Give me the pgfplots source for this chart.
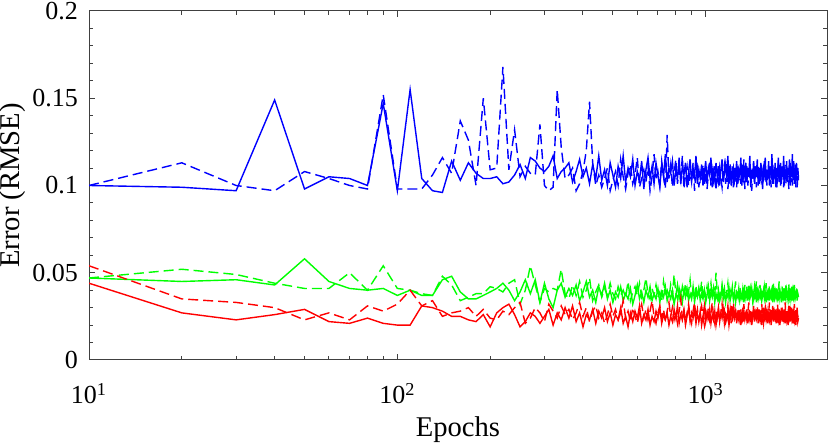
\documentclass[border=0pt]{standalone}
\usepackage{pgfplots}
\usepackage{pgfplotstable}
\usepackage{fontspec}
\setmainfont{Liberation Serif}
\pgfplotsset{compat=1.18}
\pgfplotstableread{
e bs bd gs gd rs rd
10 0.100 0.100 0.047 0.047 0.044 0.054
20 0.099 0.113 0.045 0.052 0.027 0.035
30 0.097 0.100 0.046 0.049 0.023 0.033
40 0.149 0.097 0.043 0.044 0.026 0.030
50 0.098 0.108 0.058 0.041 0.029 0.023
60 0.105 0.104 0.045 0.041 0.022 0.027
70 0.104 0.100 0.041 0.050 0.021 0.023
80 0.100 0.098 0.040 0.040 0.024 0.031
90 0.147 0.152 0.041 0.054 0.021 0.028
100 0.097 0.098 0.037 0.041 0.020 0.032
110 0.155 0.098 0.040 0.040 0.020 0.040
120 0.104 0.098 0.037 0.038 0.031 0.031
130 0.097 0.106 0.037 0.037 0.030 0.034
140 0.096 0.116 0.046 0.048 0.028 0.025
150 0.114 0.107 0.048 0.043 0.025 0.027
160 0.103 0.137 0.039 0.034 0.025 0.028
170 0.113 0.126 0.035 0.036 0.023 0.030
180 0.107 0.100 0.035 0.038 0.022 0.025
190 0.104 0.150 0.037 0.038 0.026 0.029
200 0.104 0.109 0.039 0.042 0.019 0.024
210 0.105 0.110 0.041 0.041 0.027 0.023
220 0.101 0.168 0.044 0.039 0.030 0.028
230 0.102 0.109 0.040 0.044 0.032 0.026
240 0.106 0.132 0.034 0.046 0.026 0.030
250 0.112 0.105 0.039 0.032 0.019 0.033
260 0.104 0.111 0.046 0.040 0.022 0.021
270 0.116 0.107 0.038 0.054 0.027 0.024
280 0.114 0.106 0.046 0.043 0.025 0.030
290 0.110 0.135 0.033 0.033 0.021 0.027
300 0.108 0.100 0.044 0.041 0.025 0.022
310 0.111 0.097 0.035 0.039 0.029 0.032
320 0.117 0.099 0.030 0.041 0.020 0.028
330 0.104 0.155 0.040 0.040 0.027 0.024
340 0.108 0.122 0.044 0.052 0.023 0.031
350 0.110 0.104 0.036 0.038 0.030 0.026
360 0.113 0.106 0.041 0.035 0.024 0.029
370 0.102 0.110 0.037 0.043 0.031 0.023
380 0.108 0.097 0.043 0.037 0.022 0.027
390 0.115 0.101 0.034 0.045 0.027 0.033
400 0.105 0.108 0.039 0.036 0.019 0.025
410 0.110 0.120 0.045 0.040 0.026 0.030
420 0.101 0.148 0.036 0.047 0.023 0.022
430 0.112 0.113 0.040 0.034 0.029 0.028
440 0.104 0.100 0.033 0.039 0.021 0.031
450 0.117 0.106 0.042 0.043 0.028 0.024
460 0.103 0.099 0.037 0.036 0.024 0.027
470 0.109 0.104 0.044 0.041 0.030 0.021
480 0.100 0.110 0.035 0.037 0.022 0.026
490 0.113 0.097 0.040 0.044 0.027 0.032
500 0.106 0.103 0.033 0.038 0.020 0.025
510 0.099 0.108 0.039 0.035 0.026 0.029
520 0.111 0.100 0.036 0.042 0.023 0.023
530 0.104 0.115 0.042 0.037 0.030 0.027
540 0.117 0.105 0.034 0.040 0.021 0.034
550 0.102 0.098 0.038 0.036 0.025 0.024
560 0.110 0.107 0.035 0.045 0.019 0.028
570 0.105 0.112 0.041 0.034 0.027 0.022
580 0.115 0.101 0.032 0.039 0.022 0.030
590 0.100 0.106 0.037 0.042 0.028 0.025
600 0.108 0.116 0.043 0.037 0.024 0.021
610 0.103 0.099 0.035 0.044 0.031 0.027
620 0.114 0.104 0.039 0.036 0.021 0.032
630 0.098 0.109 0.033 0.040 0.026 0.024
640 0.109 0.102 0.040 0.047 0.023 0.029
650 0.116 0.111 0.036 0.038 0.029 0.023
660 0.104 0.097 0.042 0.035 0.020 0.028
670 0.111 0.105 0.034 0.041 0.025 0.034
680 0.101 0.118 0.038 0.037 0.022 0.025
690 0.113 0.103 0.035 0.043 0.028 0.021
700 0.106 0.108 0.041 0.036 0.024 0.027
710 0.099 0.100 0.033 0.039 0.030 0.031
720 0.112 0.114 0.039 0.034 0.021 0.024
730 0.105 0.106 0.036 0.045 0.026 0.029
740 0.118 0.098 0.042 0.038 0.023 0.022
750 0.102 0.129 0.034 0.040 0.027 0.028
760 0.110 0.104 0.038 0.036 0.020 0.033
770 0.107 0.112 0.035 0.043 0.025 0.025
780 0.114 0.099 0.040 0.037 0.022 0.030
790 0.100 0.107 0.032 0.049 0.029 0.023
800 0.109 0.115 0.037 0.038 0.024 0.027
810 0.104 0.101 0.043 0.035 0.031 0.021
820 0.116 0.109 0.035 0.041 0.021 0.028
830 0.101 0.103 0.039 0.036 0.026 0.035
840 0.111 0.117 0.033 0.042 0.023 0.024
850 0.106 0.098 0.040 0.037 0.028 0.029
860 0.113 0.106 0.036 0.044 0.020 0.022
870 0.099 0.111 0.041 0.035 0.025 0.027
880 0.108 0.100 0.034 0.039 0.030 0.032
890 0.115 0.108 0.038 0.046 0.022 0.025
900 0.103 0.102 0.035 0.036 0.027 0.021
910 0.110 0.113 0.042 0.040 0.024 0.028
920 0.105 0.097 0.033 0.037 0.029 0.033
930 0.117 0.105 0.039 0.043 0.021 0.024
940 0.101 0.110 0.036 0.035 0.026 0.029
950 0.109 0.099 0.041 0.041 0.023 0.022
960 0.104 0.107 0.034 0.038 0.028 0.027
970 0.112 0.103 0.038 0.045 0.020 0.031
980 0.100 0.112 0.035 0.036 0.025 0.025
990 0.107 0.101 0.040 0.040 0.031 0.020
1000 0.114 0.108 0.033 0.037 0.022 0.028
1010 0.102 0.098 0.037 0.042 0.027 0.024
1020 0.110 0.106 0.042 0.035 0.024 0.030
1030 0.106 0.114 0.034 0.039 0.029 0.023
1040 0.116 0.100 0.039 0.044 0.021 0.027
1050 0.099 0.109 0.036 0.036 0.026 0.033
1060 0.108 0.103 0.041 0.041 0.023 0.025
1070 0.103 0.111 0.033 0.037 0.028 0.021
1080 0.113 0.097 0.038 0.050 0.020 0.028
1090 0.105 0.106 0.035 0.038 0.025 0.024
1100 0.111 0.102 0.040 0.035 0.030 0.029
1110 0.100 0.110 0.034 0.040 0.022 0.022
1120 0.109 0.104 0.037 0.036 0.027 0.027
1130 0.115 0.099 0.042 0.043 0.024 0.032
1140 0.102 0.108 0.035 0.037 0.029 0.024
1150 0.107 0.112 0.039 0.041 0.021 0.028
1160 0.112 0.101 0.033 0.035 0.026 0.022
1170 0.104 0.107 0.038 0.039 0.023 0.026
1180 0.117 0.098 0.036 0.044 0.028 0.031
1190 0.101 0.105 0.041 0.036 0.020 0.024
1200 0.108 0.113 0.034 0.040 0.025 0.029
1210 0.103 0.100 0.037 0.037 0.031 0.021
1220 0.111 0.106 0.040 0.042 0.022 0.027
1230 0.099 0.110 0.035 0.035 0.027 0.033
1240 0.110 0.103 0.039 0.039 0.024 0.025
1250 0.105 0.108 0.033 0.045 0.029 0.028
1260 0.114 0.099 0.038 0.037 0.021 0.022
1270 0.101 0.111 0.036 0.040 0.026 0.027
1280 0.109 0.104 0.041 0.036 0.023 0.030
1290 0.106 0.107 0.034 0.042 0.028 0.024
1300 0.116 0.101 0.037 0.038 0.020 0.029
1310 0.100 0.109 0.035 0.035 0.025 0.021
1320 0.112 0.102 0.040 0.041 0.030 0.026
1330 0.104 0.115 0.033 0.037 0.022 0.032
1340 0.108 0.098 0.038 0.043 0.027 0.024
1350 0.113 0.106 0.036 0.036 0.024 0.028
1360 0.102 0.111 0.042 0.040 0.029 0.023
1370 0.110 0.100 0.034 0.038 0.021 0.027
1380 0.105 0.108 0.039 0.044 0.026 0.033
1390 0.117 0.103 0.035 0.036 0.023 0.025
1400 0.099 0.110 0.037 0.041 0.028 0.021
1410 0.109 0.097 0.041 0.037 0.020 0.028
1420 0.104 0.107 0.034 0.039 0.025 0.024
1430 0.114 0.113 0.038 0.035 0.031 0.030
1440 0.101 0.102 0.036 0.042 0.022 0.026
1450 0.111 0.109 0.040 0.038 0.027 0.022
1460 0.106 0.099 0.033 0.045 0.024 0.027
1470 0.115 0.106 0.039 0.036 0.029 0.031
1480 0.100 0.112 0.035 0.040 0.021 0.024
1490 0.110 0.101 0.038 0.037 0.026 0.029
1500 0.103 0.108 0.036 0.043 0.023 0.023
1510 0.113 0.104 0.041 0.035 0.028 0.028
1520 0.107 0.110 0.034 0.039 0.020 0.032
1530 0.099 0.098 0.037 0.041 0.025 0.025
1540 0.112 0.107 0.040 0.036 0.030 0.021
1550 0.105 0.114 0.035 0.042 0.022 0.027
1560 0.116 0.102 0.038 0.038 0.027 0.030
1570 0.102 0.109 0.033 0.044 0.024 0.024
1580 0.109 0.100 0.039 0.036 0.029 0.028
1590 0.104 0.106 0.036 0.040 0.021 0.022
1600 0.114 0.111 0.041 0.037 0.026 0.027
1610 0.100 0.103 0.034 0.043 0.023 0.033
1620 0.111 0.108 0.038 0.035 0.028 0.025
1630 0.106 0.099 0.036 0.039 0.020 0.029
1640 0.118 0.107 0.040 0.041 0.025 0.022
1650 0.101 0.112 0.033 0.037 0.031 0.027
1660 0.109 0.101 0.037 0.044 0.022 0.031
1670 0.104 0.109 0.035 0.036 0.027 0.024
1680 0.113 0.104 0.039 0.040 0.024 0.028
1690 0.099 0.110 0.036 0.038 0.029 0.022
1700 0.110 0.098 0.041 0.042 0.021 0.026
1710 0.105 0.106 0.034 0.036 0.026 0.032
1720 0.116 0.113 0.038 0.039 0.023 0.025
1730 0.102 0.102 0.035 0.045 0.028 0.029
1740 0.108 0.108 0.040 0.037 0.020 0.023
1750 0.113 0.100 0.037 0.040 0.025 0.028
1760 0.101 0.111 0.033 0.036 0.030 0.024
1770 0.111 0.105 0.039 0.042 0.022 0.030
1780 0.106 0.109 0.036 0.038 0.027 0.026
1790 0.117 0.099 0.041 0.035 0.024 0.021
1800 0.100 0.107 0.034 0.041 0.029 0.027
1810 0.109 0.112 0.038 0.037 0.021 0.033
1820 0.104 0.101 0.035 0.043 0.026 0.024
1830 0.114 0.108 0.040 0.036 0.023 0.029
1840 0.102 0.103 0.037 0.040 0.028 0.022
1850 0.110 0.110 0.034 0.038 0.020 0.027
1860 0.107 0.098 0.039 0.044 0.025 0.031
1870 0.115 0.106 0.036 0.036 0.031 0.025
1880 0.100 0.113 0.041 0.039 0.022 0.028
1890 0.111 0.102 0.035 0.037 0.027 0.023
1900 0.105 0.109 0.038 0.042 0.024 0.030
1910 0.118 0.100 0.034 0.035 0.029 0.026
1920 0.103 0.107 0.040 0.040 0.021 0.021
1930 0.109 0.114 0.036 0.037 0.026 0.028
1940 0.104 0.101 0.039 0.043 0.023 0.032
1950 0.112 0.108 0.035 0.036 0.028 0.024
1960 0.099 0.104 0.037 0.041 0.020 0.029
1970 0.113 0.111 0.041 0.038 0.025 0.022
1980 0.106 0.099 0.034 0.039 0.030 0.027
1990 0.110 0.106 0.038 0.037 0.022 0.025
2000 0.104 0.103 0.036 0.036 0.024 0.023
}\data
\begin{document}
\fontsize{13}{15}\selectfont
\begin{tikzpicture}
\useasboundingbox (-44.5pt,-42pt) rectangle (370.5pt,180pt);
\begin{axis}[
  at={(0,0)}, anchor=south west,
  scale only axis, width=369pt, height=174.5pt,
  xmode=log, xmin=10, xmax=2474,
  ymin=0, ymax=0.2,
  xtick={10,100,1000},
  xticklabels={10\textsuperscript{1},10\textsuperscript{2},10\textsuperscript{3}},
  ytick={0,0.05,0.1,0.15,0.2},
  yticklabels={0,0.05,0.1,0.15,0.2},
  minor y tick num=4,
  tick align=inside,
  major tick length=3pt, minor tick length=2pt,
  axis line style={black!75, line width=0.5pt},
  every tick/.style={black!75, line width=0.5pt},
  tick label style={font=\fontsize{13}{15}\selectfont, black},
  yticklabel style={xshift=-1pt},
  xticklabel style={yshift=-7pt},
  label style={font=\fontsize{14.3}{16}\selectfont},
  xlabel={Epochs}, ylabel={Error (RMSE)},
  xlabel style={at={(axis description cs:0.5,0)}, anchor=base, yshift=-38pt},
  ylabel style={at={(axis description cs:-0.103,0.5)}, anchor=center},
  every axis plot/.append style={line width=0.7pt},
]
\addplot[blue, no marks] table[x=e, y=bs] {\data};
\addplot[blue, no marks, dash pattern=on 5pt off 2.5pt] table[x=e, y=bd] {\data};
\addplot[green, no marks] table[x=e, y=gs] {\data};
\addplot[green, no marks, dash pattern=on 5pt off 2.5pt] table[x=e, y=gd] {\data};
\addplot[red, no marks] table[x=e, y=rs] {\data};
\addplot[red, no marks, dash pattern=on 5pt off 2.5pt] table[x=e, y=rd] {\data};
\end{axis}
\end{tikzpicture}
\end{document}
